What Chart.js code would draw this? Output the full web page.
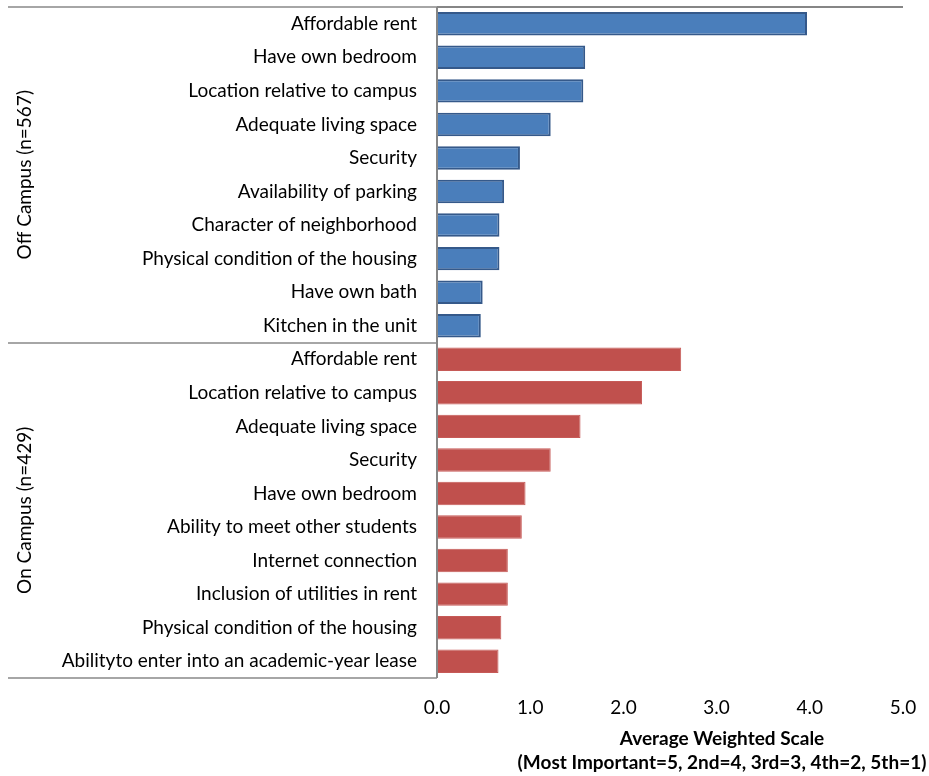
<!DOCTYPE html>
<html>
<head>
<meta charset="utf-8">
<script src="https://cdn.jsdelivr.net/npm/chart.js@4.4.1/dist/chart.umd.min.js"></script>
<style>
  html, body { margin: 0; padding: 0; background: #fff; }
  #wrap { width: 929px; height: 776px; }
</style>
</head>
<body>
<div id="wrap"><canvas id="myChart" width="929" height="776"></canvas></div>
<script>
// housing factors, off campus group first, then on campus
const offCampusLabels = [
    'Affordable rent',
    'Have own bedroom',
    'Location relative to campus',
    'Adequate living space',
    'Security',
    'Availability of parking',
    'Character of neighborhood',
    'Physical condition of the housing',
    'Have own bath',
    'Kitchen in the unit'
];
const offCampusValues = [3.97, 1.59, 1.57, 1.22, 0.89, 0.72, 0.67, 0.67, 0.49, 0.47];

const onCampusLabels = [
    'Affordable rent',
    'Location relative to campus',
    'Adequate living space',
    'Security',
    'Have own bedroom',
    'Ability to meet other students',
    'Internet connection',
    'Inclusion of utilities in rent',
    'Physical condition of the housing',
    'Abilityto enter into an academic-year lease'
];
const onCampusValues = [2.62, 2.20, 1.54, 1.22, 0.95, 0.91, 0.76, 0.76, 0.69, 0.66];

const groupNames = ['Off Campus (n=567)', 'On Campus (n=429)'];
const xTicks = [0, 1, 2, 3, 4, 5];
const axisTitle = ['Average Weighted Scale', '(Most Important=5, 2nd=4, 3rd=3, 4th=2, 5th=1)'];

const FONT = 'Lato, "Open Sans", sans-serif';
const SIZE = 19;

const labels = offCampusLabels.concat(onCampusLabels);
const values = offCampusValues.concat(onCampusValues);
const isOff = i => i < offCampusLabels.length;
const fills = labels.map((l, i) => isOff(i) ? '#4a7ebb' : '#c0504d');
const borders = labels.map((l, i) => isOff(i) ? '#35598a' : '#c65a57');
const borderWidths = labels.map((l, i) => isOff(i) ? 2 : 1);

// group brackets, axis lines, rotated group names, two-line axis title
const groupAxis = {
    id: 'groupAxis',
    afterDraw(chart) {
        const ctx = chart.ctx;
        const area = chart.chartArea;
        const y = chart.scales.y;
        const half = (y.getPixelForTick(1) - y.getPixelForTick(0)) / 2;
        const top = y.getPixelForTick(0) - half;
        const mid = y.getPixelForTick(offCampusLabels.length) - half;
        const bottom = y.getPixelForTick(labels.length - 1) + half;

        ctx.save();
        ctx.lineWidth = 2;
        ctx.strokeStyle = '#a6a6a6';
        [top, mid, bottom].forEach(py => {
            ctx.beginPath();
            ctx.moveTo(8, Math.round(py));
            ctx.lineTo(area.left, Math.round(py));
            ctx.stroke();
        });

        ctx.strokeStyle = '#868686';
        ctx.beginPath();
        ctx.moveTo(area.left, Math.round(top));
        ctx.lineTo(area.right, Math.round(top));
        ctx.stroke();
        ctx.beginPath();
        ctx.moveTo(area.left, Math.round(top));
        ctx.lineTo(area.left, Math.round(bottom));
        ctx.stroke();

        ctx.fillStyle = '#000';
        ctx.font = SIZE + 'px ' + FONT;
        ctx.textAlign = 'center';
        ctx.textBaseline = 'middle';
        [[top, mid], [mid, bottom]].forEach((g, i) => {
            ctx.save();
            ctx.translate(25, (g[0] + g[1]) / 2);
            ctx.rotate(-Math.PI / 2);
            ctx.fillText(groupNames[i], 0, 0);
            ctx.restore();
        });

        ctx.font = 'bold ' + SIZE + 'px ' + FONT;
        ctx.fillText(axisTitle[0], 722, 739);
        ctx.fillText(axisTitle[1], 722, 763);
        ctx.restore();
    }
};

const ctx = document.getElementById('myChart').getContext('2d');
new Chart(ctx, {
    type: 'bar',
    data: {
        labels: labels,
        datasets: [{
            data: values,
            backgroundColor: fills,
            borderColor: borders,
            borderWidth: borderWidths,
            borderSkipped: 'start',
            barPercentage: 0.7,
            categoryPercentage: 1
        }]
    },
    options: {
        indexAxis: 'y',
        responsive: false,
        animation: false,
        layout: { padding: { top: 7, right: 26, left: 0, bottom: 0 } },
        plugins: {
            legend: { display: false },
            tooltip: { enabled: false }
        },
        scales: {
            x: {
                min: 0,
                max: 5,
                afterBuildTicks: axis => { axis.ticks = xTicks.map(v => ({ value: v })); },
                afterFit: axis => { axis.height = 98; },
                grid: { display: false },
                border: { display: false },
                ticks: {
                    color: '#000',
                    padding: 10,
                    maxRotation: 0,
                    font: { family: FONT, size: SIZE },
                    callback: v => Number(v).toFixed(1)
                }
            },
            y: {
                afterFit: axis => {
                    axis.width = 437;
                    axis.paddingTop = 0;
                    axis.paddingBottom = 0;
                },
                grid: { display: false },
                border: { display: false },
                ticks: {
                    color: '#000',
                    padding: 12,
                    autoSkip: false,
                    font: { family: FONT, size: SIZE }
                }
            }
        }
    },
    plugins: [groupAxis]
});
</script>
</body>
</html>
